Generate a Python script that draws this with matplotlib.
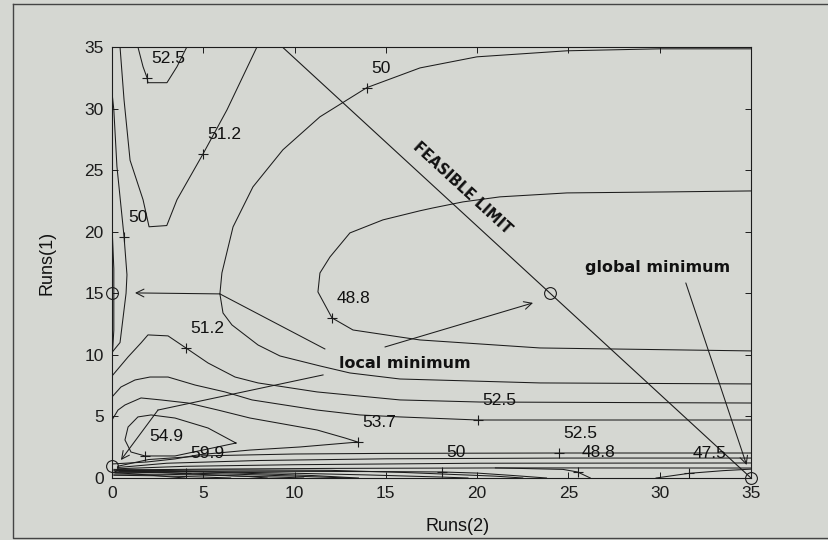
import numpy as np
import matplotlib
matplotlib.use("Agg")
import matplotlib.pyplot as plt
from matplotlib.lines import Line2D

plt.rcParams['font.family'] = ['Liberation Sans', 'DejaVu Sans']

# contour paths (Runs(2), Runs(1)) for each objective level
c52_5_top = [(1.42, 35), (1.70, 33.4), (1.92, 32.5), (1.97, 32.1), (3.01, 32.1), (3.56, 33.4), (4.1, 35)]
c51_2_top = [(0.44, 35), (0.66, 30.7), (0.99, 25.8), (1.7, 22.6), (2.03, 20.4), (3.0, 20.5),
             (3.56, 22.6), (4.98, 26.3), (6.3, 29.9), (7.94, 35)]
c50_left = [(0, 31.3), (0.1, 29.9), (0.27, 25.3), (0.66, 19.6), (0.82, 16.5), (0.77, 15.0),
            (0.44, 11.0), (0, 10.2)]
c49_4_axis = [(0, 20.5), (0.1, 17), (0.1, 12), (0, 9.5)]
c50_arc = [(35, 34.85), (30.0, 34.85), (24.92, 34.69), (19.99, 34.2), (16.87, 33.3), (13.96, 31.7),
           (11.39, 29.33), (9.36, 26.65), (7.72, 23.64), (6.63, 20.39), (6.02, 16.65), (5.91, 14.95),
           (6.08, 13.4), (6.57, 12.43), (8.0, 10.8), (9.2, 9.91), (11.39, 9.1), (13.03, 8.53),
           (15.77, 8.04), (23.44, 7.72), (35, 7.64)]
c48_8 = [(35, 23.31), (30.39, 23.23), (24.92, 23.15), (21.25, 22.83), (19.22, 22.42), (17.58, 21.93),
         (16.87, 21.7), (14.84, 20.96), (13.03, 19.9), (11.94, 17.95), (11.39, 16.65), (11.28, 15.11),
         (12.05, 13.0), (13.2, 12.02), (15.77, 11.45), (16.87, 11.21), (23.44, 10.56), (35, 10.32)]
c51_2_low = [(0.05, 8.37), (0.88, 9.83), (1.59, 10.97), (1.97, 11.62), (3.07, 11.54), (4.05, 10.56),
             (5.26, 9.34), (6.74, 8.2), (8.0, 7.72), (11.23, 6.99), (15.77, 6.34), (20.15, 6.17), (35, 6.09)]
c52_5_mid = [(0, 6.58), (0.49, 7.39), (1.26, 7.96), (2.08, 8.2), (3.07, 8.2), (4.55, 7.55), (6.19, 6.99),
             (7.67, 6.34), (11.23, 5.52), (13.58, 5.12), (15.77, 4.96), (20.04, 4.71), (35, 4.71)]
c53_7 = [(0, 4.71), (0.33, 5.52), (0.71, 5.93), (1.59, 6.5), (2.68, 6.34), (4.16, 6.09), (5.8, 5.52),
         (7.56, 4.87), (11.23, 3.9), (12.76, 3.25), (13.47, 2.92), (10.3, 2.52), (7.56, 2.27),
         (4.82, 1.9), (3.45, 1.55), (1.9, 1.3), (0, 1.14)]
c54_9 = [(6.79, 2.84), (5.26, 4.06), (3.45, 4.87), (2.14, 5.12), (1.42, 4.96), (0.88, 4.14), (0.71, 3.09),
         (1.04, 2.11), (1.81, 1.79), (3.45, 1.79), (5.26, 2.36), (6.79, 2.84)]
c52_5_band = [(0.3, 0.95), (2, 1.5), (5, 1.8), (10, 1.95), (15, 2.0), (24.5, 2.03), (35, 2.03)]
c51_2_band = [(0.3, 0.85), (3, 1.2), (8, 1.42), (15, 1.56), (25, 1.62), (35, 1.62)]
c50_band = [(0.3, 0.75), (4, 0.95), (10, 1.08), (20, 1.2), (35, 1.22)]
c48_8_band = [(0.3, 0.65), (5, 0.72), (12, 0.78), (22, 0.82), (35, 0.81)]
c50_low = [(0.4, 0.55), (8, 0.55), (15, 0.52), (18.07, 0.49), (20, 0.4), (22, 0.2), (23.8, 0.0)]
c48_8_low = [(21, 0.82), (22.3, 0.78), (24.7, 0.7), (25.5, 0.49), (26.2, 0.0)]
c47_5 = [(29.8, 0.0), (31.6, 0.38), (33.5, 0.6), (35, 0.72)]
c59_9 = [(0.2, 0.42), (2, 0.45), (4.05, 0.4), (7, 0.3), (10, 0.15), (13, 0.0)]
c57_4 = [(0.2, 0.5), (4, 0.52), (9, 0.42), (14, 0.25), (18, 0.08), (19.5, 0.0)]
c62_4 = [(0.1, 0.32), (3, 0.3), (6, 0.2), (9, 0.08), (10.5, 0.0)]
c64_9 = [(0.1, 0.22), (2.5, 0.18), (5, 0.08), (6.5, 0.0)]
c67_4 = [(0.1, 0.6), (1.5, 0.55), (4, 0.35), (7.5, 0.12), (8.5, 0.0)]
c69_9 = [(0.1, 0.45), (1.5, 0.3), (3, 0.12), (4, 0.0)]
c72_4 = [(0.1, 0.7), (2.5, 0.62), (6, 0.45), (11, 0.2), (13.5, 0.0)]
c56_2 = [(0.3, 0.6), (6, 0.66), (12, 0.62), (16, 0.45), (21, 0.15), (22.5, 0.0)]

contours = [
    (52.5, c52_5_top), (51.2, c51_2_top), (50, c50_left), (49.4, c49_4_axis), (50, c50_arc),
    (48.8, c48_8), (51.2, c51_2_low), (52.5, c52_5_mid), (53.7, c53_7), (54.9, c54_9),
    (52.5, c52_5_band), (51.2, c51_2_band), (50, c50_band), (48.8, c48_8_band), (50, c50_low),
    (48.8, c48_8_low), (47.5, c47_5), (59.9, c59_9), (57.4, c57_4), (62.4, c62_4), (64.9, c64_9),
    (67.4, c67_4), (69.9, c69_9), (72.4, c72_4), (56.2, c56_2),
]

# hand-placed contour labels: level and the point on its line
label_levels = [52.5, 51.2, 50, 50, 48.8, 51.2, 53.7, 54.9, 59.9, 52.5, 52.5, 50, 48.8, 47.5]
label_x = [1.92, 4.98, 0.66, 13.96, 12.05, 4.05, 13.47, 1.81, 4.05, 20.04, 24.5, 18.07, 25.5, 31.6]
label_y = [32.5, 26.3, 19.6, 31.7, 13.0, 10.56, 2.92, 1.79, 0.4, 4.71, 2.03, 0.49, 0.49, 0.38]

# boundary of the feasible region and candidate minima
feasible_x = [9.33, 35]
feasible_y = [35, 0]
minima_x = [0, 24, 0, 35]
minima_y = [15, 15, 1, 0]

ticks = [0, 5, 10, 15, 20, 25, 30, 35]

ink = '#1c1c1c'
paper = '#d5d7d2'

fig = plt.figure(figsize=(8.29, 5.40), dpi=100, facecolor=paper)
ax = fig.add_axes([0.1351, 0.1148, 0.7708, 0.7982], facecolor=paper)

for level, path in contours:
    xs, ys = zip(*path)
    ax.plot(xs, ys, color=ink, lw=0.75)

for lev, lx, ly in zip(label_levels, label_x, label_y):
    ax.plot(lx, ly, '+', color=ink, ms=7, mew=0.8)
    ax.annotate(f'{lev:g}', (lx, ly), xytext=(3, 14), textcoords='offset points',
                ha='left', va='center', fontsize=12.5, color='#111111')

ax.plot(feasible_x, feasible_y, color=ink, lw=0.8)
ax.text(19.2, 23.55, 'FEASIBLE LIMIT', family='DejaVu Sans', fontweight='bold', fontsize=10.5,
        rotation=np.degrees(np.arctan2(-15, 11)), transform_rotates_text=True,
        rotation_mode='anchor', ha='center', va='center', color='#111111')

ax.plot(minima_x, minima_y, 'o', mfc='none', mec=ink, ms=8.5, mew=0.8, clip_on=False)

arrow = dict(arrowstyle='->', color=ink, lw=0.75, shrinkA=0, shrinkB=0, mutation_scale=14)
ax.plot([11.66, 5.91], [10.48, 14.95], color=ink, lw=0.75)
ax.annotate('', xy=(1.26, 15.03), xytext=(5.91, 14.95), arrowprops=arrow)
ax.annotate('', xy=(23.06, 14.22), xytext=(14.95, 10.64), arrowprops=arrow)
ax.plot([11.56, 2.52], [8.37, 5.52], color=ink, lw=0.75)
ax.annotate('', xy=(0.49, 1.46), xytext=(2.52, 5.52), arrowprops=arrow)
ax.annotate('', xy=(34.76, 1.06), xytext=(31.43, 15.84), arrowprops=arrow)

ax.text(16.05, 9.26, 'local minimum', family='DejaVu Sans', fontweight='bold', fontsize=11.5,
        ha='center', va='center', color='#111111')
ax.text(29.9, 17.06, 'global minimum', family='DejaVu Sans', fontweight='bold', fontsize=11.5,
        ha='center', va='center', color='#111111')

ax.set_xlim(0, 35)
ax.set_ylim(0, 35)
ax.set_xticks(ticks)
ax.set_yticks(ticks)
ax.tick_params(direction='in', length=4, width=0.7, top=True, right=True,
               labelsize=12.5, pad=6, colors=ink)
for s in ax.spines.values():
    s.set_linewidth(0.8)
    s.set_color(ink)

ax.set_xlabel('Runs(2)', fontsize=13, color='#111111')
ax.set_ylabel('Runs(1)', fontsize=13, color='#111111')
ax.xaxis.set_label_coords(0.541, -0.093)
ax.yaxis.set_label_coords(-0.089, 0.5)

# frame around the whole figure
fig.add_artist(Line2D([0.0157, 0.0157, 1.01], [0.9926, 0.0037, 0.0037], transform=fig.transFigure,
                      color='#444444', lw=1.0))
fig.add_artist(Line2D([0.0157, 1.0], [0.9926, 0.9926], transform=fig.transFigure,
                      color='#444444', lw=1.0))

fig.savefig('out.png', dpi=100, facecolor=paper)
